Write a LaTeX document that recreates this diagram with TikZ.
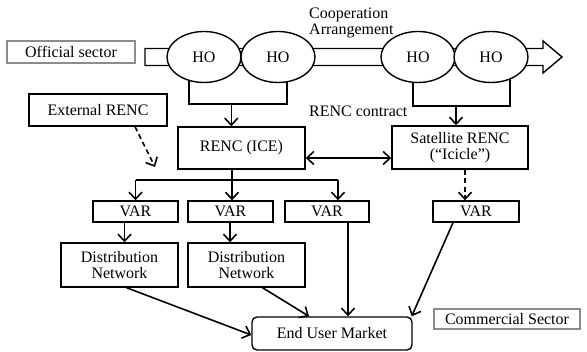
\documentclass[tikz,border=0pt]{standalone}
\usepackage{fontspec}
\setmainfont{Liberation Serif}
\usetikzlibrary{arrows.meta,shapes.geometric,backgrounds}
\begin{document}
\begin{tikzpicture}[x=1pt,y=-1pt,
  every node/.style={font=\fontsize{16}{16}\selectfont, inner sep=0pt, align=center},
  box/.style={draw, line width=1.4pt, fill=white},
  sector/.style={draw=black!45, line width=1.1pt, fill=white},
  ho/.style={ellipse, draw, line width=1.4pt, fill=white, minimum width=74pt, minimum height=51pt},
  link/.style={line width=1.6pt},
  arrowtip/.style={-{Straight Barb[length=7pt,width=13pt,line width=1.6pt]}},
  twotips/.style={{Straight Barb[length=7pt,width=13pt,line width=1.6pt]}-{Straight Barb[length=7pt,width=13pt,line width=1.6pt]}},
  dashline/.style={dash pattern=on 5pt off 3.5pt}
]
\useasboundingbox (0,0) rectangle (587,352);

% top row: sector label and housing organisations on the cooperation arrow
\node[sector, minimum width=128pt, minimum height=22pt] (official) at (71,52) {Official sector};
\node[ho] (ho1) at (204,57) {HO};
\node[ho] (ho2) at (278,57) {HO};
\node[ho] (ho3) at (418,57) {HO};
\node[ho] (ho4) at (491,57) {HO};
\node[anchor=west, align=left] (coop) at (309,23) {Cooperation\\Arrangement};

\begin{scope}[on background layer]
  % outline block arrow running behind the HO ellipses
  \draw[line width=1.4pt, fill=white] (145,48.5) -- (543,48.5) -- (543,41) -- (562,57)
        -- (543,73) -- (543,65.5) -- (145,65.5) -- cycle;
  % brackets joining each pair of HOs
  \draw[link] ([xshift=-15pt]ho1.center) -- ++(0,47) coordinate (bl) -| ([xshift=9pt]ho2.center);
  \draw[link] ([xshift=-5pt]ho3.center) -- ++(0,49) coordinate (br) -| ([xshift=19pt]ho4.center);
\end{scope}

% coordinating bodies
\node[box, minimum width=138pt, minimum height=32pt] (ext) at (98,110) {External RENC};
\node[box, minimum width=127pt, minimum height=42pt] (renc) at (241.5,148) {RENC (ICE)};
\node[box, minimum width=136pt, minimum height=43pt] (sat) at (460,147.5) {Satellite RENC\\(“Icicle”)};
\node[anchor=west] (contract) at (309,111) {RENC contract};

% resellers
\node[box, minimum width=85pt, minimum height=21pt] (var1) at (135.5,211.5) {VAR};
\node[box, minimum width=85pt, minimum height=21pt] (var2) at (230.5,211.5) {VAR};
\node[box, minimum width=84pt, minimum height=21pt] (var3) at (327,211.5) {VAR};
\node[box, minimum width=86pt, minimum height=21pt] (var4) at (476,211.5) {VAR};

% distribution networks
\node[box, minimum width=117pt, minimum height=44pt] (dist1) at (119.5,265) {Distribution\\Network};
\node[box, minimum width=117pt, minimum height=44pt] (dist2) at (246.5,265) {Distribution\\Network};

% market
\node[box, rounded corners=5pt, minimum width=160pt, minimum height=33pt] (end) at (332,333.5) {End User Market};
\node[sector, minimum width=146pt, minimum height=20pt] (comm) at (507,319) {Commercial Sector};

% connectors
\draw[link, arrowtip] (bl -| renc.north west) ++(54,0) coordinate (bm) -- (bm |- renc.north);
\draw[link, arrowtip] (br) ++(43,0) coordinate (bn) -- (bn |- sat.north);
\draw[link, twotips] ([yshift=-10pt]renc.east) -- ([yshift=-10pt]renc.east -| sat.west);
\draw[link, dashline, arrowtip] ([xshift=37pt]ext.south) -- (155,167);

% distribution bus below RENC (ICE)
\coordinate (bus) at (232,180);
\draw[link] (bus |- renc.south) -- (bus);
\draw[link] (bus -| var1.north) -- (338,180) coordinate (busr);
\draw[link, arrowtip] (bus -| var1.north) -- (var1.north);
\draw[link, arrowtip] (bus) -- (bus |- var2.north);
\draw[link, arrowtip] (busr) -- (busr |- var3.north);
\draw[link, dashline, arrowtip] ([xshift=5pt]sat.south) -- ([xshift=5pt]sat.south |- var4.north);

\draw[link, arrowtip] ([xshift=-11pt]var1.south) -- ([xshift=-11pt]var1.south |- dist1.north);
\draw[link, arrowtip] ([xshift=-0.5pt]var2.south) -- ([xshift=-0.5pt]var2.south |- dist2.north);

\draw[link, arrowtip] ([xshift=7pt]dist1.south) -- ([yshift=-1.5pt]end.west);
\draw[link, arrowtip] ([xshift=16pt]dist2.south) -- ([xshift=-23pt]end.north);
\draw[link, arrowtip] ([xshift=21pt]var3.south) -- ([xshift=21pt]var3.south |- end.north);
\draw[link, arrowtip] ([xshift=-23pt]var4.south) -- ([xshift=-1pt]end.north east);
\end{tikzpicture}
\end{document}
